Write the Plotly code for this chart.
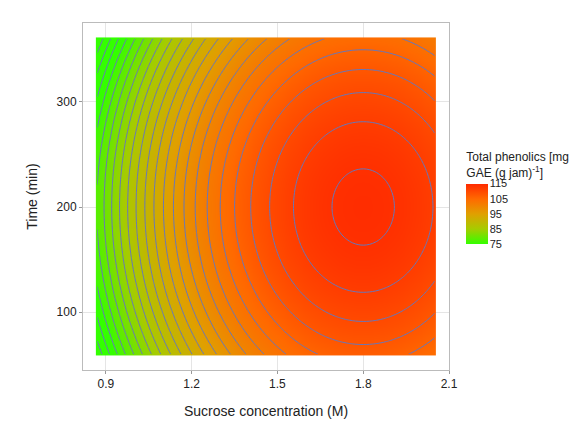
import numpy as np
import plotly.graph_objects as go

# response-surface model (peak near 1.8 M, 200 min)
x_vals = np.linspace(0.87, 2.05, 120).tolist()
y_vals = np.linspace(60, 360, 120).tolist()
peak_value = 114.5
peak_x = 1.8
peak_y = 200
coef_x = 42.0
coef_y = 3.8e-4

X, Y = np.meshgrid(x_vals, y_vals)
Z = peak_value - coef_x * (X - peak_x) ** 2 - coef_y * (Y - peak_y) ** 2

colors = [[0, "#33ff00"], [0.25, "#a6cc00"], [0.5, "#e0a000"], [0.75, "#ff6a00"], [1, "#ff2a00"]]

fig = go.Figure()
fig.add_trace(go.Heatmap(x=x_vals, y=y_vals, z=Z, zmin=75, zmax=115, colorscale=colors,
                         zsmooth="best",
                         colorbar=dict(title=dict(text="Total phenolics [mg<br>GAE (g jam)<sup>-1</sup>]", side="top",
                                                  font=dict(size=12)),
                                       tickvals=[75, 85, 95, 105, 115], len=0.33, y=0.5, yanchor="middle",
                                       thickness=22, x=1.02, xanchor="left", outlinewidth=0,
                                       tickfont=dict(size=11), ticks="outside", ticklen=0)))
fig.add_trace(go.Contour(x=x_vals, y=y_vals, z=Z, showscale=False,
                         contours=dict(coloring="none", start=60, end=114, size=2),
                         line=dict(color="#6677bb", width=1), hoverinfo="skip"))
fig.update_layout(width=586, height=427, margin=dict(l=75, r=145, t=15, b=65),
                  plot_bgcolor="white", paper_bgcolor="white",
                  font=dict(family="Liberation Sans, Arial", size=12, color="#222"))
fig.update_xaxes(range=[0.82, 2.1], tickvals=[0.9, 1.2, 1.5, 1.8, 2.1], tickformat=".1f",
                 title=dict(text="Sucrose concentration (M)", font=dict(size=14)),
                 showgrid=True, gridcolor="#e5e5e5", showline=True, linecolor="#bbbbbb", mirror=True,
                 ticks="outside", tickcolor="#999", ticklen=3, zeroline=False)
fig.update_yaxes(range=[45, 375], tickvals=[100, 200, 300],
                 title=dict(text="Time (min)", font=dict(size=14)),
                 showgrid=True, gridcolor="#e5e5e5", showline=True, linecolor="#bbbbbb", mirror=True,
                 ticks="outside", tickcolor="#999", ticklen=3, zeroline=False)
fig.write_html("out.html")
